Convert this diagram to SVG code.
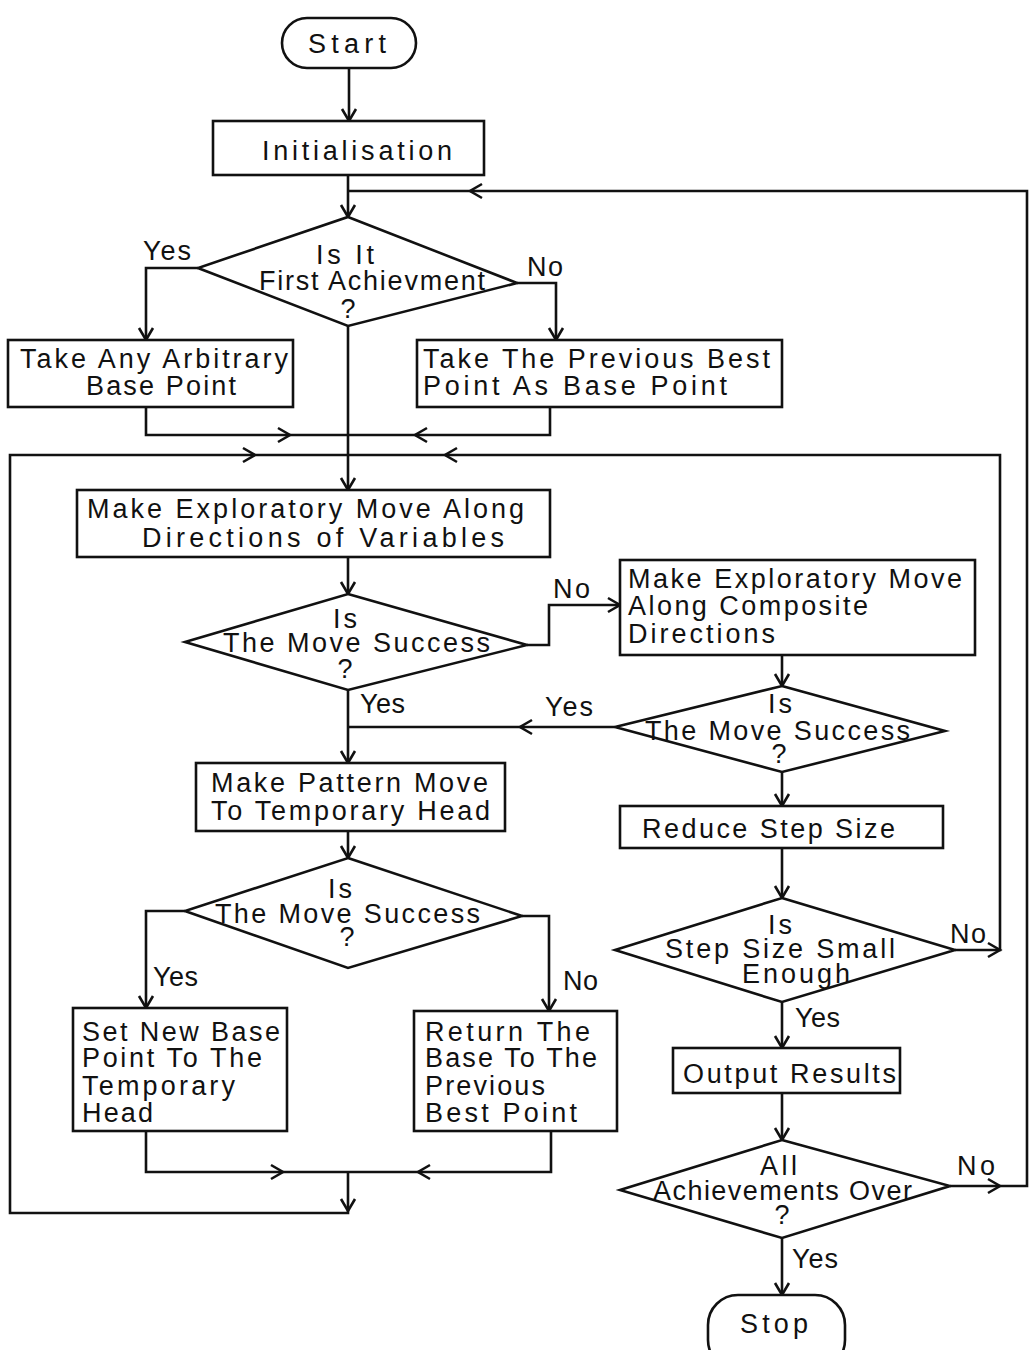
<svg xmlns="http://www.w3.org/2000/svg" xmlns:xlink="http://www.w3.org/1999/xlink" width="1036" height="1350" viewBox="0 0 1036 1350">
<style>
.s{fill:#fff;stroke:#111;stroke-width:2.6}
.c{fill:none;stroke:#111;stroke-width:2.6}
.t{font-family:"Liberation Sans","DejaVu Sans",sans-serif;font-size:27px;fill:#111}
.m{text-anchor:middle}
</style>
<defs>
<path id="ch" d="M-12,-7 L0,0 L-12,7" fill="none" stroke="#111" stroke-width="2.6"/>
</defs>
<rect width="1036" height="1350" fill="#fff"/>
<g id="connectors">
<path class="c" d="M349,68 V121"/>
<path class="c" d="M348,175 V217"/>
<path class="c" d="M950,1186 H1027 V191 H348"/>
<path class="c" d="M198,268 H146 V340"/>
<path class="c" d="M517,283 H556 V340"/>
<path class="c" d="M348,326 V490"/>
<path class="c" d="M146,407 V435 H550 V407"/>
<path class="c" d="M348,1172 V1213 H10 V455 H1000 V950 H955"/>
<path class="c" d="M348,557 V594"/>
<path class="c" d="M527,645 H549 V605 H620"/>
<path class="c" d="M782,655 V686"/>
<path class="c" d="M615,727 H348"/>
<path class="c" d="M348,690 V763"/>
<path class="c" d="M348,831 V858"/>
<path class="c" d="M185,911 H146 V1008"/>
<path class="c" d="M522,916 H549 V1011"/>
<path class="c" d="M146,1131 V1172 H551 V1131"/>
<path class="c" d="M782,772 V806"/>
<path class="c" d="M782,848 V898"/>
<path class="c" d="M782,1002 V1048"/>
<path class="c" d="M782,1093 V1140"/>
<path class="c" d="M782,1238 V1295"/>
<use xlink:href="#ch" transform="translate(349,121) rotate(90)"/>
<use xlink:href="#ch" transform="translate(348,217) rotate(90)"/>
<use xlink:href="#ch" transform="translate(470,191) rotate(180)"/>
<use xlink:href="#ch" transform="translate(1000,1186)"/>
<use xlink:href="#ch" transform="translate(146,340) rotate(90)"/>
<use xlink:href="#ch" transform="translate(556,340) rotate(90)"/>
<use xlink:href="#ch" transform="translate(348,490) rotate(90)"/>
<use xlink:href="#ch" transform="translate(290,435)"/>
<use xlink:href="#ch" transform="translate(415,435) rotate(180)"/>
<use xlink:href="#ch" transform="translate(255,455)"/>
<use xlink:href="#ch" transform="translate(445,455) rotate(180)"/>
<use xlink:href="#ch" transform="translate(348,1211) rotate(90)"/>
<use xlink:href="#ch" transform="translate(1000,950)"/>
<use xlink:href="#ch" transform="translate(348,594) rotate(90)"/>
<use xlink:href="#ch" transform="translate(620,605)"/>
<use xlink:href="#ch" transform="translate(782,686) rotate(90)"/>
<use xlink:href="#ch" transform="translate(520,727) rotate(180)"/>
<use xlink:href="#ch" transform="translate(348,763) rotate(90)"/>
<use xlink:href="#ch" transform="translate(348,858) rotate(90)"/>
<use xlink:href="#ch" transform="translate(146,1008) rotate(90)"/>
<use xlink:href="#ch" transform="translate(549,1011) rotate(90)"/>
<use xlink:href="#ch" transform="translate(283,1172)"/>
<use xlink:href="#ch" transform="translate(418,1172) rotate(180)"/>
<use xlink:href="#ch" transform="translate(782,806) rotate(90)"/>
<use xlink:href="#ch" transform="translate(782,898) rotate(90)"/>
<use xlink:href="#ch" transform="translate(782,1048) rotate(90)"/>
<use xlink:href="#ch" transform="translate(782,1140) rotate(90)"/>
<use xlink:href="#ch" transform="translate(782,1295) rotate(90)"/>
<text class="t" x="143" y="260" textLength="48">Yes</text>
<text class="t" x="527" y="276" textLength="36">No</text>
<text class="t" x="553" y="598" textLength="37">No</text>
<text class="t" x="545" y="716" textLength="48">Yes</text>
<text class="t" x="360" y="713" textLength="45">Yes</text>
<text class="t" x="153" y="986" textLength="45">Yes</text>
<text class="t" x="563" y="990" textLength="35">No</text>
<text class="t" x="950" y="943" textLength="36">No</text>
<text class="t" x="795" y="1027" textLength="45">Yes</text>
<text class="t" x="957" y="1175" textLength="38">No</text>
<text class="t" x="792" y="1268" textLength="46">Yes</text>
</g>
<g id="start">
<rect class="s" x="282" y="18" width="134" height="50" rx="25"/>
<text class="t" x="308" y="53" textLength="78">Start</text>
</g>
<g id="init">
<rect class="s" x="213" y="121" width="271" height="54"/>
<text class="t" x="262" y="160" textLength="190">Initialisation</text>
</g>
<g id="d1">
<path class="s" d="M348,217 L517,283 L348,326 L198,268 Z"/>
<text class="t" x="316" y="264" textLength="58">Is It</text>
<text class="t" x="259" y="290" textLength="226">First Achievment</text>
<text class="t m" x="348" y="318">?</text>
</g>
<g id="arbitrary">
<rect class="s" x="8" y="340" width="285" height="67"/>
<text class="t" x="20" y="368" textLength="268">Take Any Arbitrary</text>
<text class="t" x="86" y="395" textLength="150">Base Point</text>
</g>
<g id="previous">
<rect class="s" x="417" y="340" width="365" height="67"/>
<text class="t" x="423" y="368" textLength="347">Take The Previous Best</text>
<text class="t" x="423" y="395" textLength="304">Point As Base Point</text>
</g>
<g id="explore">
<rect class="s" x="77" y="490" width="473" height="67"/>
<text class="t" x="87" y="518" textLength="437">Make Exploratory Move Along</text>
<text class="t" x="142" y="547" textLength="362">Directions of Variables</text>
</g>
<g id="d2">
<path class="s" d="M348,594 L527,645 L348,690 L185,642 Z"/>
<text class="t" x="333" y="628" textLength="24">Is</text>
<text class="t" x="223" y="652" textLength="267">The Move Success</text>
<text class="t m" x="345" y="678">?</text>
</g>
<g id="composite">
<rect class="s" x="620" y="560" width="355" height="95"/>
<text class="t" x="628" y="588" textLength="334">Make Exploratory Move</text>
<text class="t" x="628" y="615" textLength="240">Along Composite</text>
<text class="t" x="628" y="643" textLength="147">Directions</text>
</g>
<g id="d3">
<path class="s" d="M782,686 L945,731 L782,772 L615,727 Z"/>
<text class="t" x="768" y="713" textLength="24">Is</text>
<text class="t" x="645" y="740" textLength="265">The Move Success</text>
<text class="t m" x="779" y="763">?</text>
</g>
<g id="pattern">
<rect class="s" x="196" y="763" width="309" height="68"/>
<text class="t" x="211" y="792" textLength="277">Make Pattern Move</text>
<text class="t" x="211" y="820" textLength="279">To Temporary Head</text>
</g>
<g id="d4">
<path class="s" d="M348,858 L522,916 L348,968 L185,911 Z"/>
<text class="t" x="328" y="898" textLength="24">Is</text>
<text class="t" x="215" y="923" textLength="265">The Move Success</text>
<text class="t m" x="347" y="946">?</text>
</g>
<g id="setnew">
<rect class="s" x="73" y="1008" width="214" height="123"/>
<text class="t" x="82" y="1041" textLength="198">Set New Base</text>
<text class="t" x="82" y="1067" textLength="180">Point To The</text>
<text class="t" x="82" y="1095" textLength="153">Temporary</text>
<text class="t" x="82" y="1122" textLength="71">Head</text>
</g>
<g id="return">
<rect class="s" x="414" y="1011" width="203" height="120"/>
<text class="t" x="425" y="1041" textLength="165">Return The</text>
<text class="t" x="425" y="1067" textLength="172">Base To The</text>
<text class="t" x="425" y="1095" textLength="120">Previous</text>
<text class="t" x="425" y="1122" textLength="152">Best Point</text>
</g>
<g id="reduce">
<rect class="s" x="620" y="806" width="323" height="42"/>
<text class="t" x="642" y="838" textLength="253">Reduce Step Size</text>
</g>
<g id="d5">
<path class="s" d="M782,898 L955,950 L782,1002 L615,950 Z"/>
<text class="t" x="768" y="934" textLength="24">Is</text>
<text class="t" x="665" y="958" textLength="230">Step Size Small</text>
<text class="t" x="742" y="983" textLength="108">Enough</text>
</g>
<g id="output">
<rect class="s" x="673" y="1048" width="227" height="45"/>
<text class="t" x="683" y="1083" textLength="213">Output Results</text>
</g>
<g id="d6">
<path class="s" d="M782,1140 L950,1186 L782,1238 L620,1190 Z"/>
<text class="t" x="760" y="1175" textLength="37">All</text>
<text class="t" x="653" y="1200" textLength="259">Achievements Over</text>
<text class="t m" x="782" y="1224">?</text>
</g>
<g id="stop">
<rect class="s" x="708" y="1295" width="137" height="75" rx="30"/>
<text class="t" x="740" y="1333" textLength="68">Stop</text>
</g>
</svg>
